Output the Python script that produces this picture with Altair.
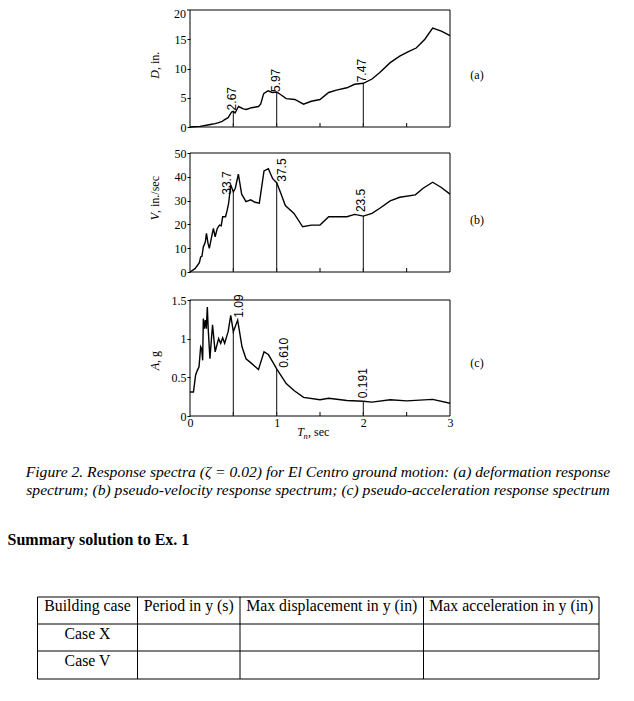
import altair as alt
import pandas as pd

# ---------------- data ----------------
T_D = [0, 0.115, 0.19, 0.25, 0.29, 0.33, 0.365, 0.40, 0.44, 0.48, 0.5, 0.52, 0.56, 0.615, 0.65,
       0.71, 0.79, 0.815, 0.85, 0.90, 0.95, 1.0, 1.04, 1.11, 1.21, 1.31, 1.40, 1.5, 1.6, 1.69,
       1.81, 1.90, 2.0, 2.10, 2.19, 2.31, 2.42, 2.52, 2.61, 2.71, 2.80, 2.90, 3.0]
D_VAL = [0, 0.1, 0.3, 0.46, 0.57, 0.74, 0.9, 1.26, 1.6, 2.57, 2.67, 2.4, 3.5, 3.1, 3.0,
         3.3, 3.5, 3.9, 5.7, 6.2, 5.9, 5.97, 5.6, 4.85, 4.7, 3.9, 4.4, 4.7, 5.9, 6.3,
         6.7, 7.3, 7.47, 8.2, 9.3, 11.0, 12.1, 12.9, 13.5, 15.0, 16.9, 16.4, 15.6]

T_V = [0, 0.058, 0.108, 0.123, 0.138, 0.154, 0.165, 0.177, 0.19, 0.208, 0.223, 0.242, 0.27,
       0.29, 0.315, 0.34, 0.36, 0.377, 0.41, 0.43, 0.446, 0.47, 0.5, 0.523, 0.558, 0.596,
       0.646, 0.70, 0.75, 0.80, 0.854, 0.904, 0.954, 1.0, 1.04, 1.10, 1.20, 1.30, 1.40, 1.5,
       1.6, 1.81, 1.90, 2.0, 2.10, 2.19, 2.31, 2.42, 2.60, 2.69, 2.80, 2.90, 3.0]
V_VAL = [0, 1.4, 3.9, 6.3, 6.6, 10.6, 11.5, 12.7, 16.2, 12.0, 9.9, 13.4, 18.3,
         14.8, 18.3, 19.7, 19.4, 23.2, 23.2, 26.1, 28.9, 36.6, 33.7, 35.2, 41.1, 32.7,
         29.6, 30.3, 29.3, 28.9, 42.5, 43.4, 39.2, 37.5, 33.8, 27.9, 24.6, 19.0, 19.7, 19.7,
         23.2, 23.2, 24.2, 23.5, 24.6, 26.8, 29.9, 31.4, 32.4, 35.2, 37.7, 35.5, 32.7]

T_A = [0, 0.04, 0.065, 0.085, 0.104, 0.123, 0.135, 0.146, 0.154, 0.165, 0.177, 0.188, 0.2,
       0.21, 0.23, 0.26, 0.29, 0.33, 0.354, 0.377, 0.40, 0.44, 0.47, 0.5, 0.55, 0.60, 0.646,
       0.70, 0.79, 0.854, 0.904, 0.954, 1.0, 1.11, 1.20, 1.31, 1.5, 1.6, 1.81, 2.0, 2.10,
       2.31, 2.5, 2.80, 3.0]
A_VAL = [0.31, 0.31, 0.53, 0.59, 0.635, 0.895, 0.87, 0.72, 1.26, 1.13, 1.24, 1.13, 1.41,
         1.13, 0.74, 1.18, 0.83, 1.0, 0.94, 1.01, 0.94, 1.09, 1.30, 1.09, 1.24, 0.895, 0.74,
         0.69, 0.60, 0.83, 0.795, 0.70, 0.61, 0.42, 0.33, 0.24, 0.21, 0.23, 0.20, 0.191, 0.18,
         0.21, 0.195, 0.215, 0.165]

MARK_T = [0.5, 1.0, 2.0]
D_MARK = [2.67, 5.97, 7.47]
D_MARK_TXT = ["2.67", "5.97", "7.47"]
V_MARK = [33.7, 37.5, 23.5]
V_MARK_TXT = ["33.7", "37.5", "23.5"]
A_MARK = [1.09, 0.610, 0.191]
A_MARK_TXT = ["1.09", "0.610", "0.191"]

X_DOMAIN = [0, 3]
X_LABEL_TICKS = [0, 1, 2, 3]
X_MINOR_TICKS = [0.5, 1.0, 1.5, 2.0, 2.5]
D_DOMAIN = [0, 20]
D_TICKS = [0, 5, 10, 15]
D_TOP_TICK = [20]
V_DOMAIN = [0, 50]
V_TICKS = [0, 10, 20, 30, 40, 50]
A_DOMAIN = [0, 1.5]
A_TICKS = [0, 0.5, 1, 1.5]

PANEL_TAGS = ["(a)", "(b)", "(c)"]
CAPTION = [
    "Figure 2. Response spectra (\u03b6 = 0.02) for El Centro ground motion: (a) deformation response",
    "spectrum; (b) pseudo-velocity response spectrum; (c) pseudo-acceleration response spectrum",
]
HEADING = "Summary solution to Ex. 1"
TABLE_HEADER = ["Building case", "Period in y (s)", "Max displacement in y (in)", "Max acceleration in y (in)"]
TABLE_ROWS = ["Case X", "Case V"]

# ---------------- layout / style ----------------
W, H = 618, 685
X0, X1 = 182, 442
SERIF = "Liberation Serif"
SANS = "Liberation Sans"
FS = 12

xscale = alt.Scale(domain=X_DOMAIN, range=[X0, X1], nice=False, zero=False)
xaxis = alt.Axis(values=X_LABEL_TICKS, offset=-(H - 408), domain=False, ticks=False,
                 labelFont=SERIF, labelFontSize=FS, labelColor="black", labelPadding=1,
                 title=None, grid=False, labelFlush=False, format="d")


def dummy():
    return pd.DataFrame({"k": [0]})


def panel(T, Y, ydom, yticks, mark_v, mark_txt, offsets, top, bottom, extra_ticks=None):
    ysc = alt.Scale(domain=ydom, range=[bottom, top], nice=False, zero=False)
    yax = alt.Axis(values=yticks, orient="left", offset=-X0, domain=False, tickSize=3,
                   tickColor="black", tickWidth=1, labelFont=SERIF, labelFontSize=FS,
                   labelColor="black", labelPadding=1, title=None, grid=False,
                   format=".1~f", labelFlush=False, labelOverlap=False)

    def X(f):
        return alt.X(f, type="quantitative", scale=xscale, axis=xaxis)

    def Yc(f):
        return alt.Y(f, type="quantitative", scale=ysc, axis=yax)

    layers = []
    frame = pd.DataFrame({"x": [X_DOMAIN[0]], "x2": [X_DOMAIN[1]], "y": [ydom[0]], "y2": [ydom[1]]})
    layers.append(alt.Chart(frame).mark_rect(fillOpacity=0, stroke="black", strokeWidth=1).encode(
        x=X("x"), x2=alt.X2("x2"), y=Yc("y"), y2=alt.Y2("y2")))
    ticks = pd.DataFrame({"t": X_MINOR_TICKS, "b": [ydom[0]] * len(X_MINOR_TICKS)})
    layers.append(alt.Chart(ticks).mark_rule(color="black", strokeWidth=1).encode(
        x=X("t"), y=Yc("b"), y2=alt.value(bottom - 4)))
    vl = pd.DataFrame({"T": MARK_T, "z": [0] * 3, "v": mark_v})
    layers.append(alt.Chart(vl).mark_rule(color="#222", strokeWidth=1.1).encode(
        x=X("T"), y=Yc("z"), y2=alt.Y2("v")))
    layers.append(alt.Chart(pd.DataFrame({"T": T, "v": Y})).mark_line(
        color="black", strokeWidth=1.4).encode(x=X("T"), y=Yc("v")))
    for t, v, s, (dx, dy) in zip(MARK_T, mark_v, mark_txt, offsets):
        layers.append(alt.Chart(pd.DataFrame({"T": [t], "v": [v], "s": [s]})).mark_text(
            angle=270, align="left", baseline="middle", dx=dx, dy=dy, font=SANS,
            fontSize=FS, color="black").encode(x=X("T"), y=Yc("v"), text="s:N"))
    if extra_ticks:
        # top tick label kept inside the page (would be clipped at the very top edge)
        et = pd.DataFrame({"v": extra_ticks, "s": [str(e) for e in extra_ticks]})
        layers.append(alt.Chart(et).mark_text(
            align="right", baseline="middle", dx=-4, dy=4, font=SERIF, fontSize=FS,
            color="black").encode(x=alt.value(X0), y=Yc("v"), text="s:N"))
        layers.append(alt.Chart(et).mark_rule(color="black", strokeWidth=1).encode(
            x=alt.value(X0 - 3), x2=alt.value(X0), y=Yc("v")))
    return alt.layer(*layers)


pa = panel(T_D, D_VAL, D_DOMAIN, D_TICKS, D_MARK, D_MARK_TXT,
           [(1, -1.5), (0, -1), (1, -1.5)], 2, 119, extra_ticks=D_TOP_TICK)
pb = panel(T_V, V_VAL, V_DOMAIN, V_TICKS, V_MARK, V_MARK_TXT,
           [(-3, -6), (1, 5.5), (4, -2.5)], 145, 264)
pc = panel(T_A, A_VAL, A_DOMAIN, A_TICKS, A_MARK, A_MARK_TXT,
           [(14, 5.5), (1, 7), (3, 0)], 292, 408)


def txt(s, x, y, size=FS, font=SERIF, style="normal", weight="normal", align="left",
        baseline="middle", angle=0):
    kw = dict(align=align, baseline=baseline, font=font, fontSize=size, fontStyle=style,
              fontWeight=weight, color="black", text=s)
    if angle:
        kw["angle"] = angle
    return alt.Chart(dummy()).mark_text(**kw).encode(x=alt.value(x), y=alt.value(y))


decor = []
# panel tags
for tag, yy in zip(PANEL_TAGS, [67, 212, 355]):
    decor.append(txt(tag, 469, yy, align="center"))
# y titles (italic variable + unit), rotated
for var, unit, yy in [("D", ", in.", 62), ("V", ", in./sec", 205), ("A", ", g", 355)]:
    decor.append(txt(var, 147, yy, style="italic", align="right", angle=270))
    decor.append(txt(unit, 147, yy, align="left", angle=270))
# x title
decor.append(txt("T", 296, 428, style="italic", align="right", baseline="alphabetic"))
decor.append(txt("n", 295.5, 431, size=8.5, style="italic", align="left", baseline="alphabetic"))
decor.append(txt(", sec", 300, 428, align="left", baseline="alphabetic"))
# caption
decor.append(txt(CAPTION[0], 310, 464, size=15.6, style="italic", align="center"))
decor.append(txt(CAPTION[1], 310, 482, size=15.6, style="italic", align="center"))
# heading
decor.append(txt(HEADING, -0.5, 532, size=16, weight="bold", align="left"))

# table
COL_EDGES = [29.5, 129.5, 232, 415.5, 591]
ROW_EDGES = [589, 616, 643, 671]
for xe in COL_EDGES:
    decor.append(alt.Chart(dummy()).mark_rule(color="black", strokeWidth=1).encode(
        x=alt.value(xe), y=alt.value(ROW_EDGES[0]), y2=alt.value(ROW_EDGES[-1])))
for ye in ROW_EDGES:
    decor.append(alt.Chart(dummy()).mark_rule(color="black", strokeWidth=1).encode(
        x=alt.value(COL_EDGES[0]), x2=alt.value(COL_EDGES[-1]), y=alt.value(ye)))
for i, h in enumerate(TABLE_HEADER):
    cx = (COL_EDGES[i] + COL_EDGES[i + 1]) / 2
    decor.append(txt(h, cx, 603, size=15.8, align="center", baseline="alphabetic"))
for r, yy in zip(TABLE_ROWS, [631, 658]):
    cx = (COL_EDGES[0] + COL_EDGES[1]) / 2
    decor.append(txt(r, cx, yy, size=15.8, align="center", baseline="alphabetic"))

chart = alt.layer(pa, pb, pc, *decor).resolve_scale(y="independent").properties(
    width=W, height=H, autosize=alt.AutoSizeParams(type="none"), padding=0
).configure_view(stroke=None)

chart.save("out.html", embed_options={"renderer": "svg", "actions": False})
